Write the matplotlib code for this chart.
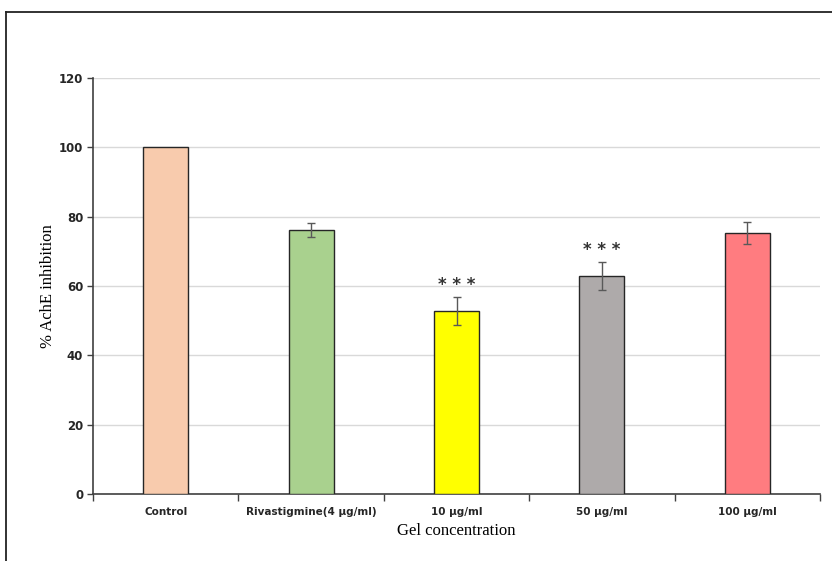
import matplotlib.pyplot as plt
from matplotlib.lines import Line2D

# data
groups = ['Control', 'Rivastigmine(4 µg/ml)', '10 µg/ml', '50 µg/ml', '100 µg/ml']
inhibition = [100, 76.2, 52.8, 62.9, 75.3]
errors = [0, 2.0, 4.0, 4.0, 3.3]
signif = ['', '', '***', '***', '']
colors = ['#F8CBAD', '#A9D18E', '#FFFF00', '#AEAAAA', '#FF7C80']

fig = plt.figure(figsize=(8.32, 5.61), dpi=100)
ax = fig.add_axes([0.1118, 0.1194, 0.8738, 0.7416])

x = range(len(groups))
ax.bar(x, inhibition, width=0.31, color=colors, edgecolor='#262626', linewidth=1.0, zorder=3)
ax.errorbar([i for i in x if errors[i] > 0], [inhibition[i] for i in x if errors[i] > 0],
            yerr=[e for e in errors if e > 0], fmt='none', ecolor='#595959',
            elinewidth=1.0, capsize=3, capthick=1.0, zorder=4)
for i, s in enumerate(signif):
    if s:
        ax.text(i, inhibition[i] + errors[i] + 3.6, ' '.join(s), ha='center', va='center',
                fontsize=12, fontweight='bold', family='DejaVu Sans', color='#333333')

ax.set_xlim(-0.5, len(groups) - 0.5)
ax.set_ylim(0, 120)
ax.set_yticks(range(0, 121, 20))
ax.yaxis.grid(True, color='#D9D9D9', linewidth=1.0, zorder=0)
ax.set_axisbelow(True)

ax.set_xticks([i - 0.5 for i in range(len(groups) + 1)], minor=False)
ax.set_xticklabels([])
ax.set_xticks(list(x), minor=True)
ax.set_xticklabels(groups, minor=True)
ax.tick_params(axis='x', which='minor', length=0, pad=9, labelsize=7.5)
ax.tick_params(axis='x', which='major', length=5, width=1, color='#404040')
ax.tick_params(axis='y', length=4, width=1, color='#404040', labelsize=8.5, pad=3)
for lab in ax.get_xticklabels(minor=True) + ax.get_yticklabels():
    lab.set_fontweight('bold')
    lab.set_color('#262626')

for sp in ['top', 'right']:
    ax.spines[sp].set_visible(False)
for sp in ['left', 'bottom']:
    ax.spines[sp].set_color('#404040')
    ax.spines[sp].set_linewidth(1.2)

ax.set_ylabel('% AchE inhibition', family='Liberation Serif', fontsize=12, labelpad=2)
ax.set_xlabel('Gel concentration', family='Liberation Serif', fontsize=12, labelpad=5)

# outer frame (open on the right and bottom, as cropped)
fig.add_artist(Line2D([6 / 832, 1.0], [1 - 12 / 561, 1 - 12 / 561], transform=fig.transFigure,
                      color='#222222', linewidth=1.3))
fig.add_artist(Line2D([6 / 832, 6 / 832], [0, 1 - 12 / 561], transform=fig.transFigure,
                      color='#222222', linewidth=1.3))

fig.savefig('out.png', dpi=100)
